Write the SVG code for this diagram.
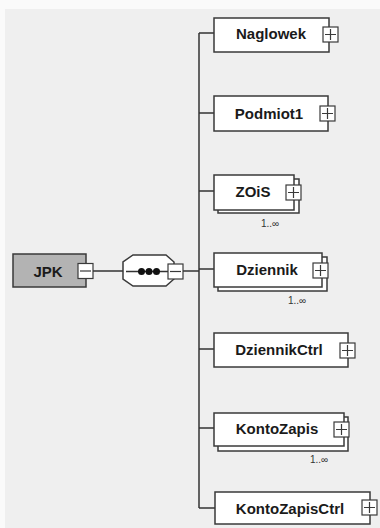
<svg xmlns="http://www.w3.org/2000/svg" width="380" height="528" viewBox="0 0 380 528">
<style>
.bg{fill:#efefef}
.box{fill:#ffffff;stroke:#3a3a3a;stroke-width:1.5}
.jpk{fill:#b3b3b3;stroke:#3a3a3a;stroke-width:1.5}
.ic{fill:#ffffff;stroke:#3a3a3a;stroke-width:1.2}
.icl{stroke:#3a3a3a;stroke-width:1.2;fill:none}
.ln{stroke:#333333;stroke-width:1.5;fill:none}
.t{font-family:"Liberation Sans",Arial,sans-serif;font-weight:bold;font-size:15px;fill:#1a1a1a;text-anchor:middle}
.m{font-family:"Liberation Sans",Arial,sans-serif;font-size:10px;fill:#333333;text-anchor:middle}
</style>
<defs>
<g id="plus"><rect class="ic" x="0" y="0" width="15" height="15"/><path class="icl" d="M7.5 2V13M2 7.5H13"/></g>
<g id="minus"><rect class="ic" x="0" y="0" width="15" height="15"/><path class="icl" d="M2 7.5H13"/></g>
</defs>
<rect x="0" y="0" width="380" height="528" fill="#fafafa"/>
<rect class="bg" x="5" y="9" width="375" height="519"/>
<g id="connectors">
<path class="ln" d="M93 271H123"/>
<path class="ln" d="M183 271H199"/>
<path class="ln" d="M199 33V508"/>
<path class="ln" d="M199 33H214"/>
<path class="ln" d="M199 113H214"/>
<path class="ln" d="M199 191H214"/>
<path class="ln" d="M199 269H214"/>
<path class="ln" d="M199 349H214"/>
<path class="ln" d="M199 428H214"/>
<path class="ln" d="M199 508H215"/>
</g>
<g id="JPK">
<rect class="jpk" x="13" y="254" width="73" height="33"/>
<text class="t" x="48" y="276.5">JPK</text>
<use href="#minus" x="78" y="263.5"/>
</g>
<g id="sequence">
<path class="box" d="M133 255H166L174 262V279L166 286H133L123 279V262Z"/>
<path class="ln" d="M126 271.5H168"/>
<circle cx="141.5" cy="271.5" r="3.5" fill="#111"/>
<circle cx="149" cy="271.5" r="3.5" fill="#111"/>
<circle cx="156.5" cy="271.5" r="3.5" fill="#111"/>
<use href="#minus" x="168" y="264"/>
</g>
<g id="Naglowek">
<rect class="box" x="214" y="18" width="115" height="34"/>
<text class="t" x="271" y="39">Naglowek</text>
<use href="#plus" x="323" y="27"/>
</g>
<g id="Podmiot1">
<rect class="box" x="214" y="96" width="114" height="35"/>
<text class="t" x="269" y="118.5">Podmiot1</text>
<use href="#plus" x="320" y="106"/>
</g>
<g id="ZOiS">
<rect class="box" x="218" y="179" width="81" height="34"/>
<rect class="box" x="214" y="175" width="80" height="35"/>
<text class="t" x="253" y="197">ZOiS</text>
<use href="#plus" x="286" y="185"/>
<text class="m" x="270" y="227">1..∞</text>
</g>
<g id="Dziennik">
<rect class="box" x="218" y="257" width="109" height="34"/>
<rect class="box" x="214" y="253" width="108" height="34"/>
<text class="t" x="267" y="274.5">Dziennik</text>
<use href="#plus" x="313" y="263"/>
<text class="m" x="297" y="304">1..∞</text>
</g>
<g id="DziennikCtrl">
<rect class="box" x="214" y="333" width="134" height="34"/>
<text class="t" x="279" y="354.5">DziennikCtrl</text>
<use href="#plus" x="340" y="343"/>
</g>
<g id="KontoZapis">
<rect class="box" x="218" y="417" width="130" height="34"/>
<rect class="box" x="214" y="413" width="130" height="33"/>
<text class="t" x="277" y="434">KontoZapis</text>
<use href="#plus" x="334" y="422"/>
<text class="m" x="319" y="463">1..∞</text>
</g>
<g id="KontoZapisCtrl">
<rect class="box" x="215" y="492" width="155" height="32"/>
<text class="t" x="290" y="513.5">KontoZapisCtrl</text>
<use href="#plus" x="362" y="500"/>
</g>
</svg>
